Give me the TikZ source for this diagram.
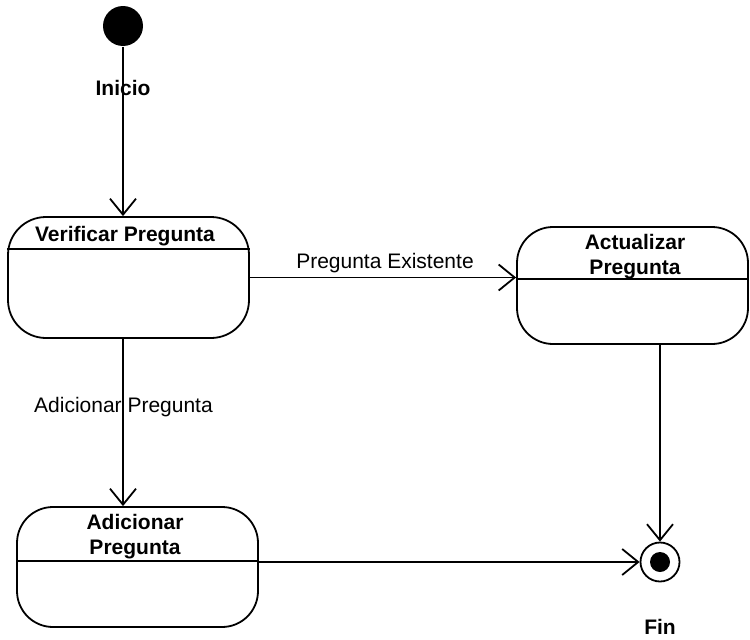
\documentclass[tikz,border=0pt]{standalone}
\usepackage{fontspec}
\setmainfont{Liberation Sans}
\usetikzlibrary{arrows.meta}
\begin{document}
\begin{tikzpicture}[x=1pt,y=-1pt,
  line width=1.8pt,
  every node/.style={font=\fontsize{21}{25}\selectfont, inner sep=0pt},
  title/.style={font=\fontsize{21}{25}\selectfont\bfseries, align=center},
  statebox/.style={draw, rounded corners=#1},
  flow/.style={-{Straight Barb[length=16pt,width=26pt,line width=1.8pt]}}
]
\useasboundingbox (0,0) rectangle (750,640);

% initial and final pseudo-states
\node[circle, fill=black, minimum size=40pt] (start) at (123,26) {};
\node[circle, draw, minimum size=39pt] (fin) at (660,562) {};
\node[circle, fill=black, minimum size=20pt] (findot) at (fin) {};

% states
\node[statebox=38pt, minimum width=241pt, minimum height=121pt] (verif) at (128.5,277.5) {};
\node[statebox=36pt, minimum width=231pt, minimum height=117pt] (actual) at (632.5,285.5) {};
\node[statebox=36pt, minimum width=241pt, minimum height=120pt] (adic) at (137.5,567) {};

% compartment dividers
\draw (verif.west |- 0,249) -- (verif.east |- 0,249);
\draw (actual.west |- 0,279) -- (actual.east |- 0,279);
\draw (adic.west |- 0,561) -- (adic.east |- 0,561);

% state names
\node[title] (verifname) at (125,236) {Verificar Pregunta};
\node[title] (actualname) at (635,257) {Actualizar\\Pregunta};
\node[title] (adicname) at (135,537) {Adicionar\\Pregunta};

% transitions
\draw[flow] (start) -- (start |- verif.north);
\draw[flow] (verif.east) -- (verif.east -| actual.west);
\draw[flow] (start |- verif.south) -- (start |- adic.north);
\draw[flow] (fin |- actual.south) -- (fin.north);
\draw[flow] (adic.east |- fin) -- (fin.west);

% labels
\node[font=\fontsize{21}{25}\selectfont\bfseries] (inicio) at (123,88) {Inicio};
\node (existe) at (385,263) {Pregunta Existente};
\node (adiclbl) at (123.5,407) {Adicionar Pregunta};
\node[font=\fontsize{21}{25}\selectfont\bfseries] (finlbl) at (660,627) {Fin};
\end{tikzpicture}
\end{document}
